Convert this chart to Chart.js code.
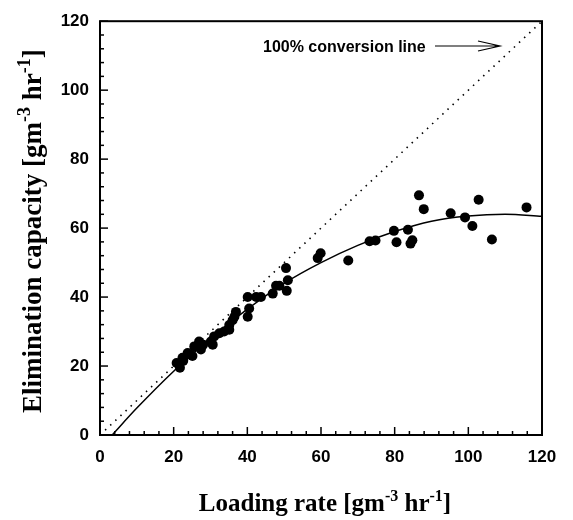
<!DOCTYPE html>
<html>
<head>
<meta charset="utf-8">
<script src="https://cdn.jsdelivr.net/npm/chart.js@4.4.0/dist/chart.umd.min.js"></script>
<style>
  body { margin: 0; background: #fff; }
  canvas { display: block; }
</style>
</head>
<body>
<canvas id="ecChart" width="573" height="520"></canvas>
<script>
// Measured points: loading rate vs elimination capacity
const loadingRate = [20.8, 21.7, 22.4, 22.6, 23.8, 24.5, 25.1, 25.6, 26.9, 27.4, 28, 30.1, 30.6, 31, 32.4,
  33.7, 35.1, 35.1, 36, 36.5, 36.9, 40.1, 40.5, 40.1, 42.4, 43.7, 46.9, 47.8, 48.7, 50.5, 50.7, 51,
  59.1, 59.9, 67.4, 73.2, 74.8, 79.8, 80.5, 83.6, 84.3, 84.8, 86.6, 87.9, 95.2, 99.1, 101.1, 102.8,
  106.4, 115.8];
const eliminationCap = [20.9, 19.5, 22.4, 21.5, 23.8, 23.3, 22.9, 25.7, 27.1, 24.8, 26.2, 27.1, 26.2, 28.6, 29.5,
  30, 30.5, 31.9, 33.3, 34.3, 35.7, 34.3, 36.7, 40, 40, 40, 41, 43.3, 43.3, 48.4, 41.8, 44.9,
  51.3, 52.7, 50.6, 56.2, 56.4, 59.2, 55.9, 59.5, 55.5, 56.5, 69.5, 65.5, 64.3, 63.1, 60.6, 68.2,
  56.7, 66];

// Fitted curve
const fitX = [3.3, 10, 20, 30, 40, 50, 60, 70, 80, 90, 100, 110, 120];
const fitY = [0, 7.8, 18.5, 28, 36.5, 44, 50, 55, 59, 62, 63.5, 64, 63.4];

// 100% conversion line
const lineX = [0, 120];
const lineY = [0, 120];

const axisTicks = [0, 20, 40, 60, 80, 100, 120];

function toPoints(xs, ys) {
    return xs.map((x, i) => ({ x: x, y: ys[i] }));
}

// Frame, inward ticks, axis titles and the annotation
const decorPlugin = {
    id: 'decor',
    afterDraw(chart) {
        const ctx = chart.ctx;
        const a = chart.chartArea;
        const xs = chart.scales.x;
        const ys = chart.scales.y;
        ctx.save();
        ctx.strokeStyle = '#000';

        // ticks (major every 20, minor every 4)
        ctx.lineWidth = 1.5;
        for (let v = 0; v <= 120; v += 4) {
            const len = v % 20 === 0 ? 8 : 4;
            const px = xs.getPixelForValue(v);
            ctx.beginPath();
            ctx.moveTo(px, a.bottom);
            ctx.lineTo(px, a.bottom - len);
            ctx.stroke();
            const py = ys.getPixelForValue(v);
            ctx.beginPath();
            ctx.moveTo(a.left, py);
            ctx.lineTo(a.left + len, py);
            ctx.stroke();
        }

        // frame
        ctx.lineWidth = 2;
        ctx.strokeRect(a.left, a.top, a.right - a.left, a.bottom - a.top);

        // annotation
        ctx.fillStyle = '#000';
        ctx.font = 'bold 16px "Liberation Sans", Arial, sans-serif';
        ctx.textBaseline = 'alphabetic';
        ctx.textAlign = 'left';
        ctx.fillText('100% conversion line', 263, 52);
        ctx.lineWidth = 1.2;
        ctx.beginPath();
        ctx.moveTo(435, 46);
        ctx.lineTo(500, 46);
        ctx.moveTo(478, 41);
        ctx.lineTo(500, 46);
        ctx.lineTo(478, 51);
        ctx.stroke();

        // axis titles with superscripts
        drawTitle(ctx, (a.left + a.right) / 2 + 4, 511, 0, 25,
            [['Loading rate [gm', false], ['-3', true], [' hr', false], ['-1', true], [']', false]]);
        drawTitle(ctx, 41, (a.top + a.bottom) / 2 + 3, -Math.PI / 2, 27,
            [['Elimination capacity [gm', false], ['-3', true], [' hr', false], ['-1', true], [']', false]]);
        ctx.restore();
    }
};

function drawTitle(ctx, cx, cy, angle, size, parts) {
    const mainFont = 'bold ' + size + 'px "Liberation Serif", "Times New Roman", serif';
    const supFont = 'bold ' + Math.round(size * 0.65) + 'px "Liberation Serif", "Times New Roman", serif';
    const rise = Math.round(size * 0.4);
    let total = 0;
    parts.forEach(p => {
        ctx.font = p[1] ? supFont : mainFont;
        total += ctx.measureText(p[0]).width;
    });
    ctx.save();
    ctx.translate(cx, cy);
    ctx.rotate(angle);
    ctx.textAlign = 'left';
    ctx.textBaseline = 'alphabetic';
    let x = -total / 2;
    parts.forEach(p => {
        ctx.font = p[1] ? supFont : mainFont;
        ctx.fillText(p[0], x, p[1] ? -rise : 0);
        x += ctx.measureText(p[0]).width;
    });
    ctx.restore();
}

const tickFont = { family: '"Liberation Sans", Arial, sans-serif', size: 17, weight: 'bold' };

new Chart(document.getElementById('ecChart').getContext('2d'), {
    type: 'scatter',
    data: {
        datasets: [
            {
                label: 'Data',
                data: toPoints(loadingRate, eliminationCap),
                backgroundColor: '#000',
                borderColor: '#000',
                pointRadius: 5,
                pointBorderWidth: 0,
                showLine: false
            },
            {
                label: 'Fit',
                data: toPoints(fitX, fitY),
                borderColor: '#000',
                borderWidth: 1.5,
                pointRadius: 0,
                showLine: true,
                cubicInterpolationMode: 'monotone'
            },
            {
                label: '100% conversion',
                data: toPoints(lineX, lineY),
                borderColor: '#000',
                borderWidth: 1.6,
                borderDash: [1.5, 5.5],
                pointRadius: 0,
                showLine: true
            }
        ]
    },
    options: {
        responsive: false,
        animation: false,
        layout: { padding: { top: 15, right: 31, left: 0, bottom: 0 } },
        plugins: {
            legend: { display: false },
            tooltip: { enabled: false }
        },
        scales: {
            x: {
                type: 'linear',
                min: 0,
                max: 120,
                afterFit: (scale) => { scale.height = 85; },
                afterBuildTicks: (scale) => { scale.ticks = axisTicks.map(v => ({ value: v })); },
                grid: { display: false, drawTicks: false },
                border: { display: false },
                ticks: { color: '#000', font: tickFont, padding: 12, maxRotation: 0 }
            },
            y: {
                type: 'linear',
                min: 0,
                max: 120,
                afterFit: (scale) => { scale.width = 100; },
                afterBuildTicks: (scale) => { scale.ticks = axisTicks.map(v => ({ value: v })); },
                grid: { display: false, drawTicks: false },
                border: { display: false },
                ticks: { color: '#000', font: tickFont, padding: 11 }
            }
        }
    },
    plugins: [decorPlugin]
});
</script>
</body>
</html>
